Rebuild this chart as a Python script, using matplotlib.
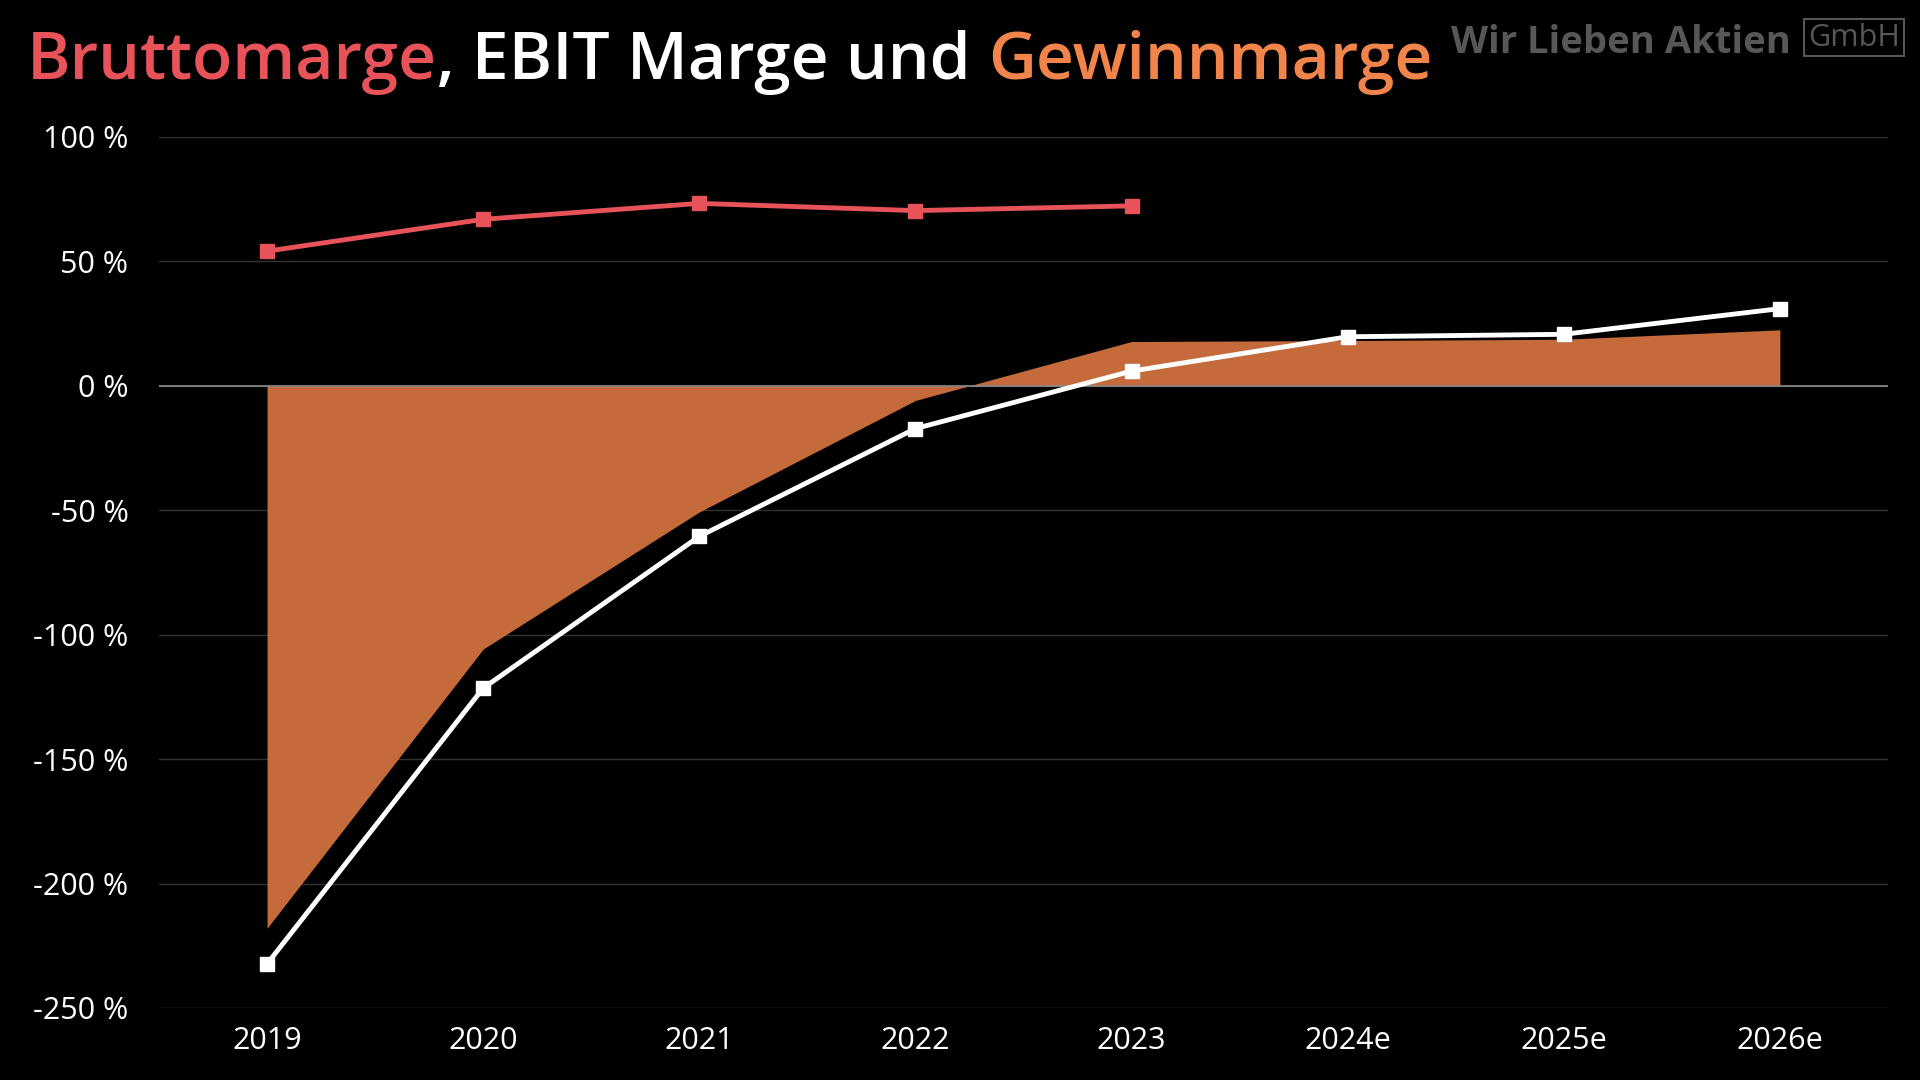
import matplotlib
matplotlib.use("Agg")
import matplotlib.pyplot as plt

plt.rcParams['font.family'] = ['Open Sans', 'DejaVu Sans']

# data
years = ['2019', '2020', '2021', '2022', '2023', '2024e', '2025e', '2026e']
brutto = [54.1, 66.9, 73.3, 70.4, 72.3]
ebit = [-232.3, -121.5, -60.5, -17.2, 5.9, 19.7, 20.7, 31.0]
gewinn = [-218.0, -105.8, -50.7, -5.9, 17.8, 18.2, 18.7, 22.5]
yticks = [100, 50, 0, -50, -100, -150, -200, -250]

red = '#E8535A'
orange = '#F0844A'
fill_col = '#C46A3B'

fig = plt.figure(figsize=(19.2, 10.8), dpi=100, facecolor='black')
ax = fig.add_axes([0.0828, 0.0667, 0.9005, 0.8065], facecolor='black')

x = list(range(len(years)))
ax.fill_between(x, gewinn, 0, color=fill_col, linewidth=0, zorder=2)
ax.axhline(0, color='#8a8a8a', linewidth=1.2, zorder=3)
ax.plot(x[:len(brutto)], brutto, color=red, linewidth=3.5, marker='s',
        markersize=10, zorder=4)
ax.plot(x, ebit, color='white', linewidth=3.5, marker='s',
        markersize=10, zorder=5)

ax.set_xlim(-0.5, 7.5)
ax.set_ylim(-250, 100)
ax.set_yticks(yticks)
ax.set_yticklabels([f'{v} %' for v in yticks])
ax.set_xticks(x)
ax.set_xticklabels(years)
ax.grid(axis='y', color='#333333', linewidth=1, zorder=0)
ax.set_axisbelow(True)
for s in ax.spines.values():
    s.set_visible(False)
ax.tick_params(colors='white', labelsize=22, length=0)
ax.tick_params(axis='x', pad=13)
ax.tick_params(axis='y', pad=22)

# title in three colours
tkw = dict(fontsize=47.5, fontweight='semibold')
t1 = fig.text(0.014, 0.927, 'Bruttomarge', color=red, va='baseline', **tkw)
t2 = fig.text(0, 0, ', EBIT Marge und ', color='white', va='bottom', **tkw)
t3 = fig.text(0, 0, 'Gewinnmarge', color=orange, va='bottom', **tkw)
fig.canvas.draw()
r = fig.canvas.get_renderer()
bb1 = t1.get_window_extent(r)
t2.set_position((bb1.x1 / 1920, bb1.y0 / 1080))
fig.canvas.draw()
bb2 = t2.get_window_extent(r)
t3.set_position((bb2.x1 / 1920, bb2.y0 / 1080))

# logo
fig.text(0.7555, 0.951, 'Wir Lieben Aktien', color='#575757', fontsize=27.5,
         fontweight='bold', va='baseline', ha='left')
fig.text(0.9895, 0.965, 'GmbH', color='#575757', fontsize=22,
         va='center', ha='right',
         bbox=dict(facecolor='none', edgecolor='#575757', linewidth=1.5,
                   boxstyle='square,pad=0.12'))

fig.savefig('out.png', dpi=100, facecolor='black')
